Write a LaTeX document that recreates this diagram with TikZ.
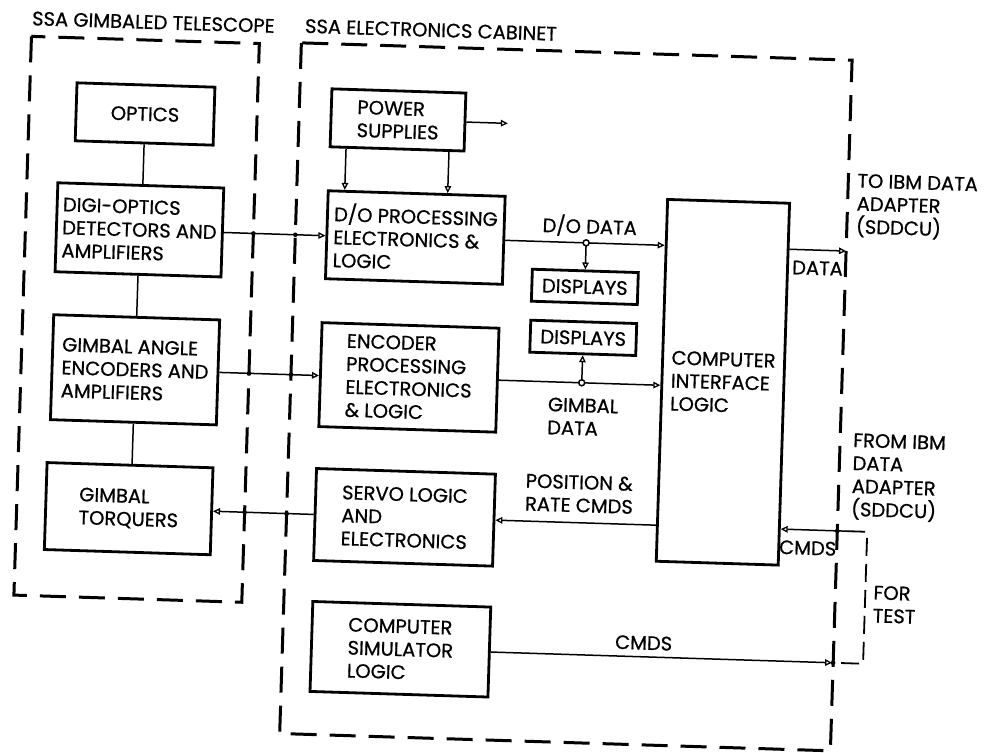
\documentclass[tikz,border=0pt]{standalone}
\usepackage{fontspec}
\setmainfont{Poppins}[FakeBold=0.7]
\usetikzlibrary{arrows.meta}
\begin{document}
\begin{tikzpicture}[x=1pt,y=-1pt,
  txt/.style={font=\fontsize{19.5}{23}\selectfont},
  box/.style={draw, line width=2.8pt, rectangle, inner sep=0pt, align=left, txt},
  lbl/.style={align=left, inner sep=0pt, txt},
  conn/.style={line width=1.5pt},
  arr/.style={conn, -{Triangle[open, length=7pt, width=6.5pt, line width=1.3pt]}},
  frame/.style={line width=3pt, dash pattern=on 26pt off 13pt},
  testline/.style={line width=1.8pt, dash pattern=on 18pt off 8pt},
]
\useasboundingbox (0,0) rectangle (984,752);
\fill[white] (0,0) rectangle (984,752);
\begin{scope}[rotate around={-1.8:(492,376)}, transform shape]
% titles
\node[lbl, anchor=west] (t1) at (21,33) {SSA GIMBALED TELESCOPE};
\node[lbl, anchor=west] (t2) at (294,32) {SSA ELECTRONICS CABINET};
% frames
\draw[frame] (21,51) rectangle (249,610);
\draw[frame] (291,49) rectangle (842,740);
% boxes
\node[box, minimum width=138pt, minimum height=58pt, align=center] (optics) at (137,125) {OPTICS};
\node[box, minimum width=166pt, minimum height=89pt] (digi) at (135,241) {DIGI-OPTICS\\DETECTORS AND\\AMPLIFIERS};
\node[box, minimum width=166pt, minimum height=105pt] (gimang) at (135,381) {GIMBAL ANGLE\\ENCODERS AND\\AMPLIFIERS};
\node[box, minimum width=166pt, minimum height=87pt] (torq) at (133,520) {GIMBAL\\TORQUERS};
\node[box, minimum width=134pt, minimum height=58pt] (power) at (390,123) {POWER\\SUPPLIES};
\node[box, minimum width=177pt, minimum height=88pt] (dop) at (411,240) {D/O PROCESSING\\ELECTRONICS \&\\LOGIC};
\node[box, minimum width=106pt, minimum height=32pt] (disp1) at (582,284) {DISPLAYS};
\node[box, minimum width=106pt, minimum height=32pt] (disp2) at (582,335) {DISPLAYS};
\node[box, minimum width=177pt, minimum height=104pt] (enc) at (409,380) {ENCODER\\PROCESSING\\ELECTRONICS\\\& LOGIC};
\node[box, minimum width=122pt, minimum height=362pt] (cil) at (723,375) {COMPUTER\\INTERFACE\\LOGIC};
\node[box, minimum width=179pt, minimum height=92pt] (servo) at (409,520) {SERVO LOGIC\\AND\\ELECTRONICS};
\node[box, minimum width=178pt, minimum height=90pt] (sim) at (409,652) {COMPUTER\\SIMULATOR\\LOGIC};
% labels
\node[lbl] (ldo) at (585,223) {D/O DATA};
\node[lbl] (ldata) at (814,258) {DATA};
\node[lbl] (lgd) at (584,414) {GIMBAL\\DATA};
\node[lbl] (lpos) at (583,491) {POSITION \&\\RATE CMDS};
\node[lbl] (lcmds1) at (813,538) {CMDS};
\node[lbl] (lcmds2) at (652,638) {CMDS};
\node[lbl, anchor=west] (lto) at (851,194) {TO IBM DATA\\ADAPTER\\(SDDCU)};
\node[lbl, anchor=west] (lfrom) at (855,465) {FROM IBM\\DATA\\ADAPTER\\(SDDCU)};
\node[lbl, anchor=west] (lft) at (880,592) {FOR\\TEST};
% coordinates
\coordinate (pwrout) at (500,123);
\coordinate (dataout) at (842,240);
\coordinate (cmdsin) at (852,520);
\coordinate (ftA) at (872,520);
\coordinate (ftB) at (872,652);
\coordinate (ftC) at (846,652);
\coordinate (simout) at (841,652);
\coordinate (tq) at (servo.west -| torq.east);
% connectors
\draw[conn] (optics.south) -- (optics.south |- digi.north);
\draw[conn] (digi.south) -- (digi.south |- gimang.north);
\draw[conn] (gimang.south) -- (gimang.south |- torq.north);
\draw[arr] (digi.east) -- (digi.east -| dop.west);
\draw[arr] (gimang.east) -- (gimang.east -| enc.west);
\draw[arr] (servo.west) -- (tq);
\draw[arr] (power.east) -- (pwrout);
\draw[arr] ([xshift=-51pt]power.south) -- ([xshift=-51pt]power.south |- dop.north);
\draw[arr] ([xshift=52pt]power.south) -- ([xshift=52pt]power.south |- dop.north);
\draw[arr] (dop.east) -- (dop.east -| cil.west);
\coordinate (j1) at (disp1.north |- dop.east);
\draw[arr] (j1) -- (disp1.north);
\draw[conn, fill=white] (j1) circle (3pt);
\draw[arr] (enc.east) -- (enc.east -| cil.west);
\coordinate (j2) at (disp2.south |- enc.east);
\draw[arr] (j2) -- (disp2.south);
\draw[conn, fill=white] (j2) circle (3pt);
\draw[arr] (cil.west |- servo.east) -- (servo.east);
\draw[arr] (cil.east |- dataout) -- (dataout);
\draw[arr] (cmdsin) -- (cmdsin -| cil.east);
\draw[testline] (cmdsin) -- (ftA) -- (ftB) -- (ftC);
\draw[arr] (sim.east) -- (simout);
% crossing marks
\foreach \p in {(249,241),(291,241),(249,381),(291,381),(249,520),(291,520),(842,520),(842,652)}
  \fill \p circle (2.3pt);
\end{scope}
\end{tikzpicture}
\end{document}
